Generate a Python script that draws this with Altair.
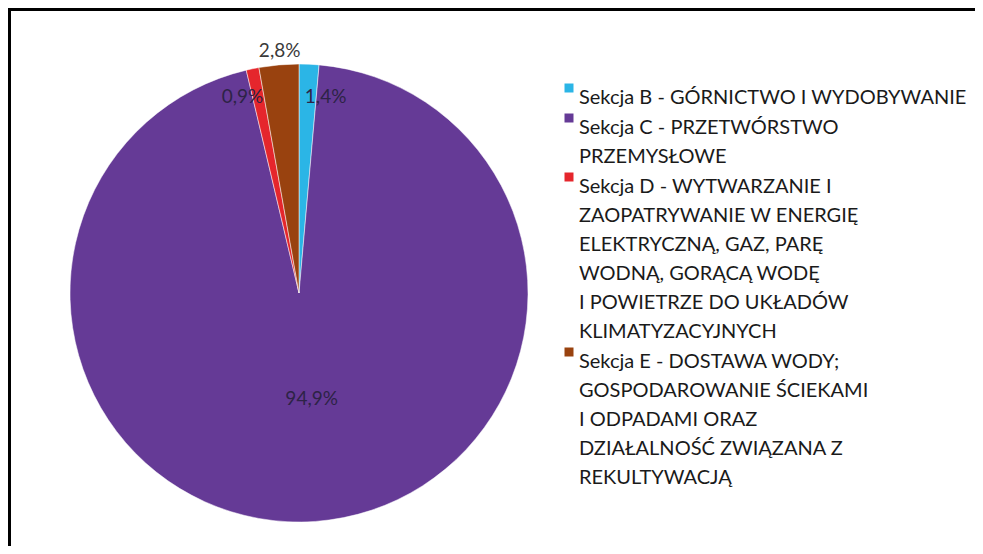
import altair as alt
import pandas as pd

sections = [
    "Sekcja B - GÓRNICTWO I WYDOBYWANIE",
    "Sekcja C - PRZETWÓRSTWO|PRZEMYSŁOWE",
    "Sekcja D - WYTWARZANIE I|ZAOPATRYWANIE W ENERGIĘ|ELEKTRYCZNĄ, GAZ, PARĘ|WODNĄ, GORĄCĄ WODĘ|I POWIETRZE DO UKŁADÓW|KLIMATYZACYJNYCH",
    "Sekcja E - DOSTAWA WODY;|GOSPODAROWANIE ŚCIEKAMI|I ODPADAMI ORAZ|DZIAŁALNOŚĆ ZWIĄZANA Z|REKULTYWACJĄ",
]
shares = [1.4, 94.9, 0.9, 2.8]
labels = ["1,4%", "94,9%", "0,9%", "2,8%"]
colors = ["#2BB5E6", "#653A96", "#E5262C", "#99420F"]
order = [0, 1, 2, 3]

df = pd.DataFrame({"section": sections, "share": shares, "label": labels, "ord": order})

CX, CY, R = 291, 285, 229
FONT = "Lato"
PI2 = 2 * 3.141592653589793

color = alt.Color(
    "section:N",
    scale=alt.Scale(domain=sections, range=colors),
    sort=sections,
    legend=alt.Legend(
        title=None,
        orient="none",
        legendX=551,
        legendY=70,
        labelExpr="split(datum.label, '|')",
        labelFont=FONT,
        labelFontSize=20,
        labelColor="#1a1a1a",
        labelLimit=500,
        symbolType="square",
        symbolSize=81,
        symbolStrokeWidth=0,
        rowPadding=0,
        labelOffset=0,
        labelBaseline="top",
        padding=0,
    ),
)

base = alt.Chart(df).encode(
    theta=alt.Theta("share:Q", stack=True),
    order=alt.Order("ord:Q"),
    x=alt.value(CX),
    y=alt.value(CY),
)

pie = base.mark_arc(radius=R, stroke="white", strokeWidth=0.5).encode(color=color)

def lab(name, radius, dx, dy, col):
    return (
        alt.Chart(df)
        .transform_window(cum="sum(share)", sort=[alt.SortField("ord")])
        .transform_calculate(start="datum.cum - datum.share")
        .transform_calculate(mid="(datum.start + datum.share / 2) / 100 * 2 * PI")
        .transform_filter(alt.datum.label == name)
        .mark_text(radius=radius, dx=dx, dy=dy, font=FONT, fontSize=19, color=col)
        .encode(
            theta=alt.Theta("mid:Q", scale=alt.Scale(domain=[0, PI2], range=[0, PI2])),
            text="label:N",
            x=alt.value(CX),
            y=alt.value(CY),
        )
    )

t1 = lab("1,4%", 196, 18, 0, "#2d2346")
t2 = lab("94,9%", 106, 5, 0, "#2d2346")
t3 = lab("0,9%", 200, -16, 0, "#2d2346")
t4 = lab("2,8%", 243, 2, 0, "#3a3a3a")

left_border = alt.Chart(df).mark_rect(color="black").encode(
    x=alt.value(0), x2=alt.value(3), y=alt.value(0), y2=alt.value(538)
)
top_border = alt.Chart(df).mark_rect(color="black").encode(
    x=alt.value(0), x2=alt.value(967), y=alt.value(0), y2=alt.value(3)
)

chart = (
    alt.layer(pie, t1, t2, t3, t4, left_border, top_border)
    .resolve_scale(theta="independent")
    .properties(width=967, height=538, padding=0, autosize=alt.AutoSizeParams(type="none"))
    .configure_view(stroke=None)
    .configure(background="white", style={"guide-label": {"lineHeight": 29}})
)

chart.save("out.html", embed_options={"renderer": "svg", "actions": False})
